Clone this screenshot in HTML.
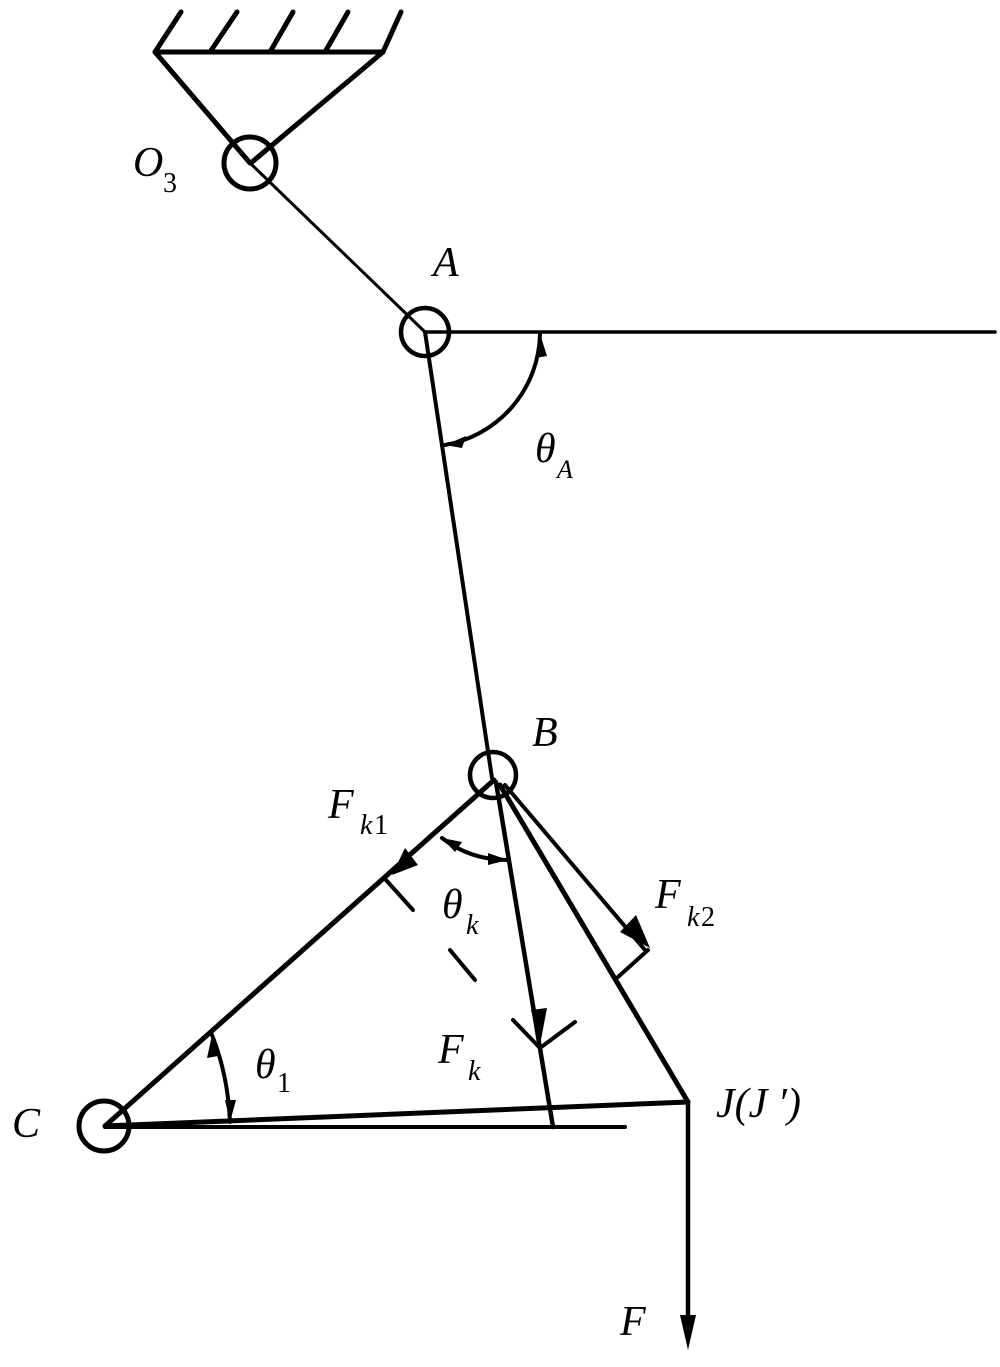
<!DOCTYPE html>
<html><head><style>
html,body{margin:0;padding:0;background:#fff;}
svg{display:block;}
text{font-family:"Liberation Serif",serif;font-style:italic;fill:#000;}
</style></head><body>
<svg width="1000" height="1367" viewBox="0 0 1000 1367" xmlns="http://www.w3.org/2000/svg">
<g stroke="#000" fill="none" stroke-linecap="round">
<line x1="155" y1="52" x2="383" y2="52" stroke-width="5"/>
<line x1="155" y1="52" x2="181" y2="12" stroke-width="5"/>
<line x1="210" y1="52" x2="237" y2="12" stroke-width="5"/>
<line x1="270" y1="52" x2="293" y2="12" stroke-width="5"/>
<line x1="325" y1="52" x2="348" y2="12" stroke-width="5"/>
<line x1="383" y1="52" x2="401" y2="12" stroke-width="5"/>
<line x1="155" y1="52" x2="250" y2="163" stroke-width="5"/>
<line x1="383" y1="52" x2="252" y2="162" stroke-width="5"/>
<circle cx="250" cy="163" r="26" stroke-width="5"/>
<line x1="250" y1="163" x2="425" y2="332" stroke-width="3"/>
<circle cx="425" cy="332" r="24" stroke-width="4.5"/>
<line x1="425" y1="332" x2="995" y2="332" stroke-width="3.5"/>
<line x1="425" y1="332" x2="492" y2="778" stroke-width="4"/>
<path d="M540,334 A115,115 0 0 1 445,445" stroke-width="4"/>
<circle cx="493" cy="775" r="23" stroke-width="4.5"/>
<line x1="494" y1="780" x2="105" y2="1126" stroke-width="5"/>
<circle cx="104" cy="1126" r="25" stroke-width="5"/>
<line x1="386" y1="880" x2="413" y2="910" stroke-width="4"/>
<line x1="450" y1="950" x2="475" y2="980" stroke-width="4"/>
<path d="M442,838 Q470,860 508,860" stroke-width="4"/>
<line x1="496" y1="782" x2="553" y2="1127" stroke-width="4.5"/>
<polyline points="513,1020 540,1048 575,1022" stroke-width="4"/>
<line x1="500" y1="785" x2="688" y2="1102" stroke-width="5"/>
<line x1="505" y1="785" x2="645" y2="950" stroke-width="4"/>
<line x1="648" y1="950" x2="618" y2="977" stroke-width="4"/>
<line x1="105" y1="1126" x2="688" y2="1102" stroke-width="5"/>
<line x1="105" y1="1127" x2="625" y2="1127" stroke-width="4"/>
<line x1="688" y1="1102" x2="688" y2="1320" stroke-width="4.5"/>
<path d="M212,1035 Q228,1075 230,1122" stroke-width="4"/>
</g>
<g fill="#000">
<polygon points="688,1350 680,1315 696,1315"/>
<polygon points="540,1045 531,1010 547,1008"/>
<polygon points="392,875 405,848 418,865"/>
<polygon points="650,948 620,932 636,915"/>
<polygon points="540,334 535,358 547,356"/>
<polygon points="445,445 466,436 462,448"/>
<polygon points="212,1035 207,1058 218,1056"/>
<polygon points="230,1122 225,1100 236,1100"/>
<polygon points="442,838 462,842 455,852"/>
<polygon points="508,860 488,853 488,865"/>
</g>
<g font-size="42">
<text x="133" y="176">O</text><text x="163" y="192" font-size="28" style="font-style:normal">3</text>
<text x="433" y="276">A</text>
<text x="535" y="462">θ</text><text x="557" y="478" font-size="26">A</text>
<text x="532" y="746">B</text>
<text x="328" y="818">F</text><text x="360" y="834" font-size="28">k</text><text x="374" y="834" font-size="28" style="font-style:normal">1</text>
<text x="442" y="918">θ</text><text x="466" y="934" font-size="28">k</text>
<text x="655" y="908">F</text><text x="687" y="926" font-size="28">k</text><text x="701" y="926" font-size="28" style="font-style:normal">2</text>
<text x="438" y="1063">F</text><text x="468" y="1080" font-size="28">k</text>
<text x="255" y="1078">θ</text><text x="277" y="1092" font-size="28" style="font-style:normal">1</text>
<text x="12" y="1137">C</text>
<text x="716" y="1117">J(J ′)</text>
<text x="620" y="1335">F</text>
</g>
</svg>
</body></html>
